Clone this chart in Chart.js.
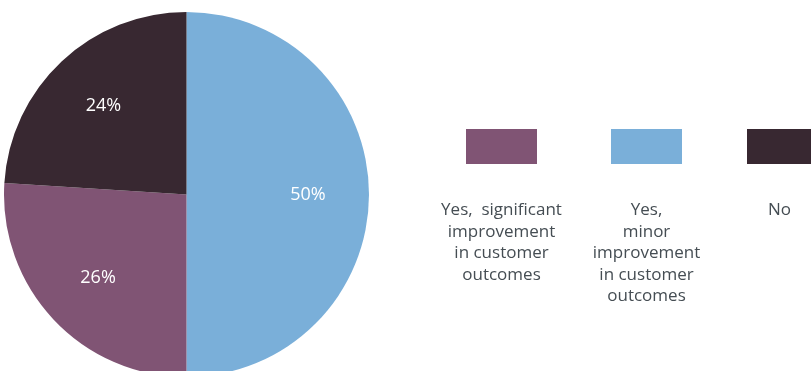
<!DOCTYPE html>
<html>
<head>
<meta charset="utf-8">
<script src="https://cdn.jsdelivr.net/npm/chart.js@4.4.1/dist/chart.umd.min.js"></script>
<style>
  html, body { margin: 0; padding: 0; background: #fff; overflow: hidden; }
  #wrap { width: 811px; height: 385px; }
</style>
</head>
<body>
<div id="wrap"><canvas id="pie" width="811" height="385"></canvas></div>
<script>
// Legend order (left to right); each label is already split into lines
const categories = [
    ['Yes,  significant', 'improvement', 'in customer', 'outcomes'],
    ['Yes,', 'minor', 'improvement', 'in customer', 'outcomes'],
    ['No']
];
const shares = [26, 50, 24];
const sliceColors = ['#805474', '#7AAFD9', '#382831'];
// clockwise order of the slices, starting at 12 o'clock
const sliceOrder = [1, 0, 2];

const FONT = '"Open Sans", "Noto Sans", sans-serif';

// white percentage labels inside the slices
const sliceLabels = {
    id: 'sliceLabels',
    afterDatasetsDraw(chart) {
        const ctx = chart.ctx;
        const meta = chart.getDatasetMeta(0);
        ctx.save();
        ctx.fillStyle = '#ffffff';
        ctx.font = '18px ' + FONT;
        ctx.textAlign = 'center';
        ctx.textBaseline = 'middle';
        meta.data.forEach((arc, i) => {
            const mid = (arc.startAngle + arc.endAngle) / 2;
            const r = arc.outerRadius * 0.665;
            ctx.fillText(chart.data.datasets[0].data[i] + '%',
                arc.x + Math.cos(mid) * r, arc.y + Math.sin(mid) * r);
        });
        ctx.restore();
    }
};

// swatches above, centred multi-line text below
const boxLegend = {
    id: 'boxLegend',
    afterDraw(chart, args, opts) {
        const ctx = chart.ctx;
        ctx.save();
        ctx.font = opts.fontSize + 'px ' + FONT;
        ctx.textAlign = 'center';
        ctx.textBaseline = 'alphabetic';
        categories.forEach((lines, i) => {
            const x = opts.left[i];
            ctx.fillStyle = sliceColors[i];
            ctx.fillRect(x, opts.top, opts.boxW, opts.boxH);
            ctx.fillStyle = opts.color;
            const cx = x + opts.boxW / 2 + (opts.textShift[i] || 0);
            lines.forEach((t, j) => ctx.fillText(t, cx, opts.baseline + j * opts.lineH));
        });
        ctx.restore();
    }
};

new Chart(document.getElementById('pie').getContext('2d'), {
    type: 'pie',
    data: {
        labels: sliceOrder.map(i => categories[i].join(' ')),
        datasets: [{
            data: sliceOrder.map(i => shares[i]),
            backgroundColor: sliceOrder.map(i => sliceColors[i]),
            borderWidth: 0,
            hoverOffset: 0,
            offset: 0
        }]
    },
    options: {
        responsive: false,
        animation: false,
        events: [],
        radius: 182.5,
        layout: { padding: { left: 4, top: 12, right: 442, bottom: 8 } },
        plugins: {
            legend: { display: false },
            tooltip: { enabled: false },
            boxLegend: {
                left: [466, 611, 747],
                top: 129,
                boxW: 71,
                boxH: 35,
                baseline: 215,
                lineH: 21.5,
                fontSize: 17,
                color: '#454d53',
                textShift: [0, 0, -3]
            }
        }
    },
    plugins: [sliceLabels, boxLegend]
});
</script>
</body>
</html>
